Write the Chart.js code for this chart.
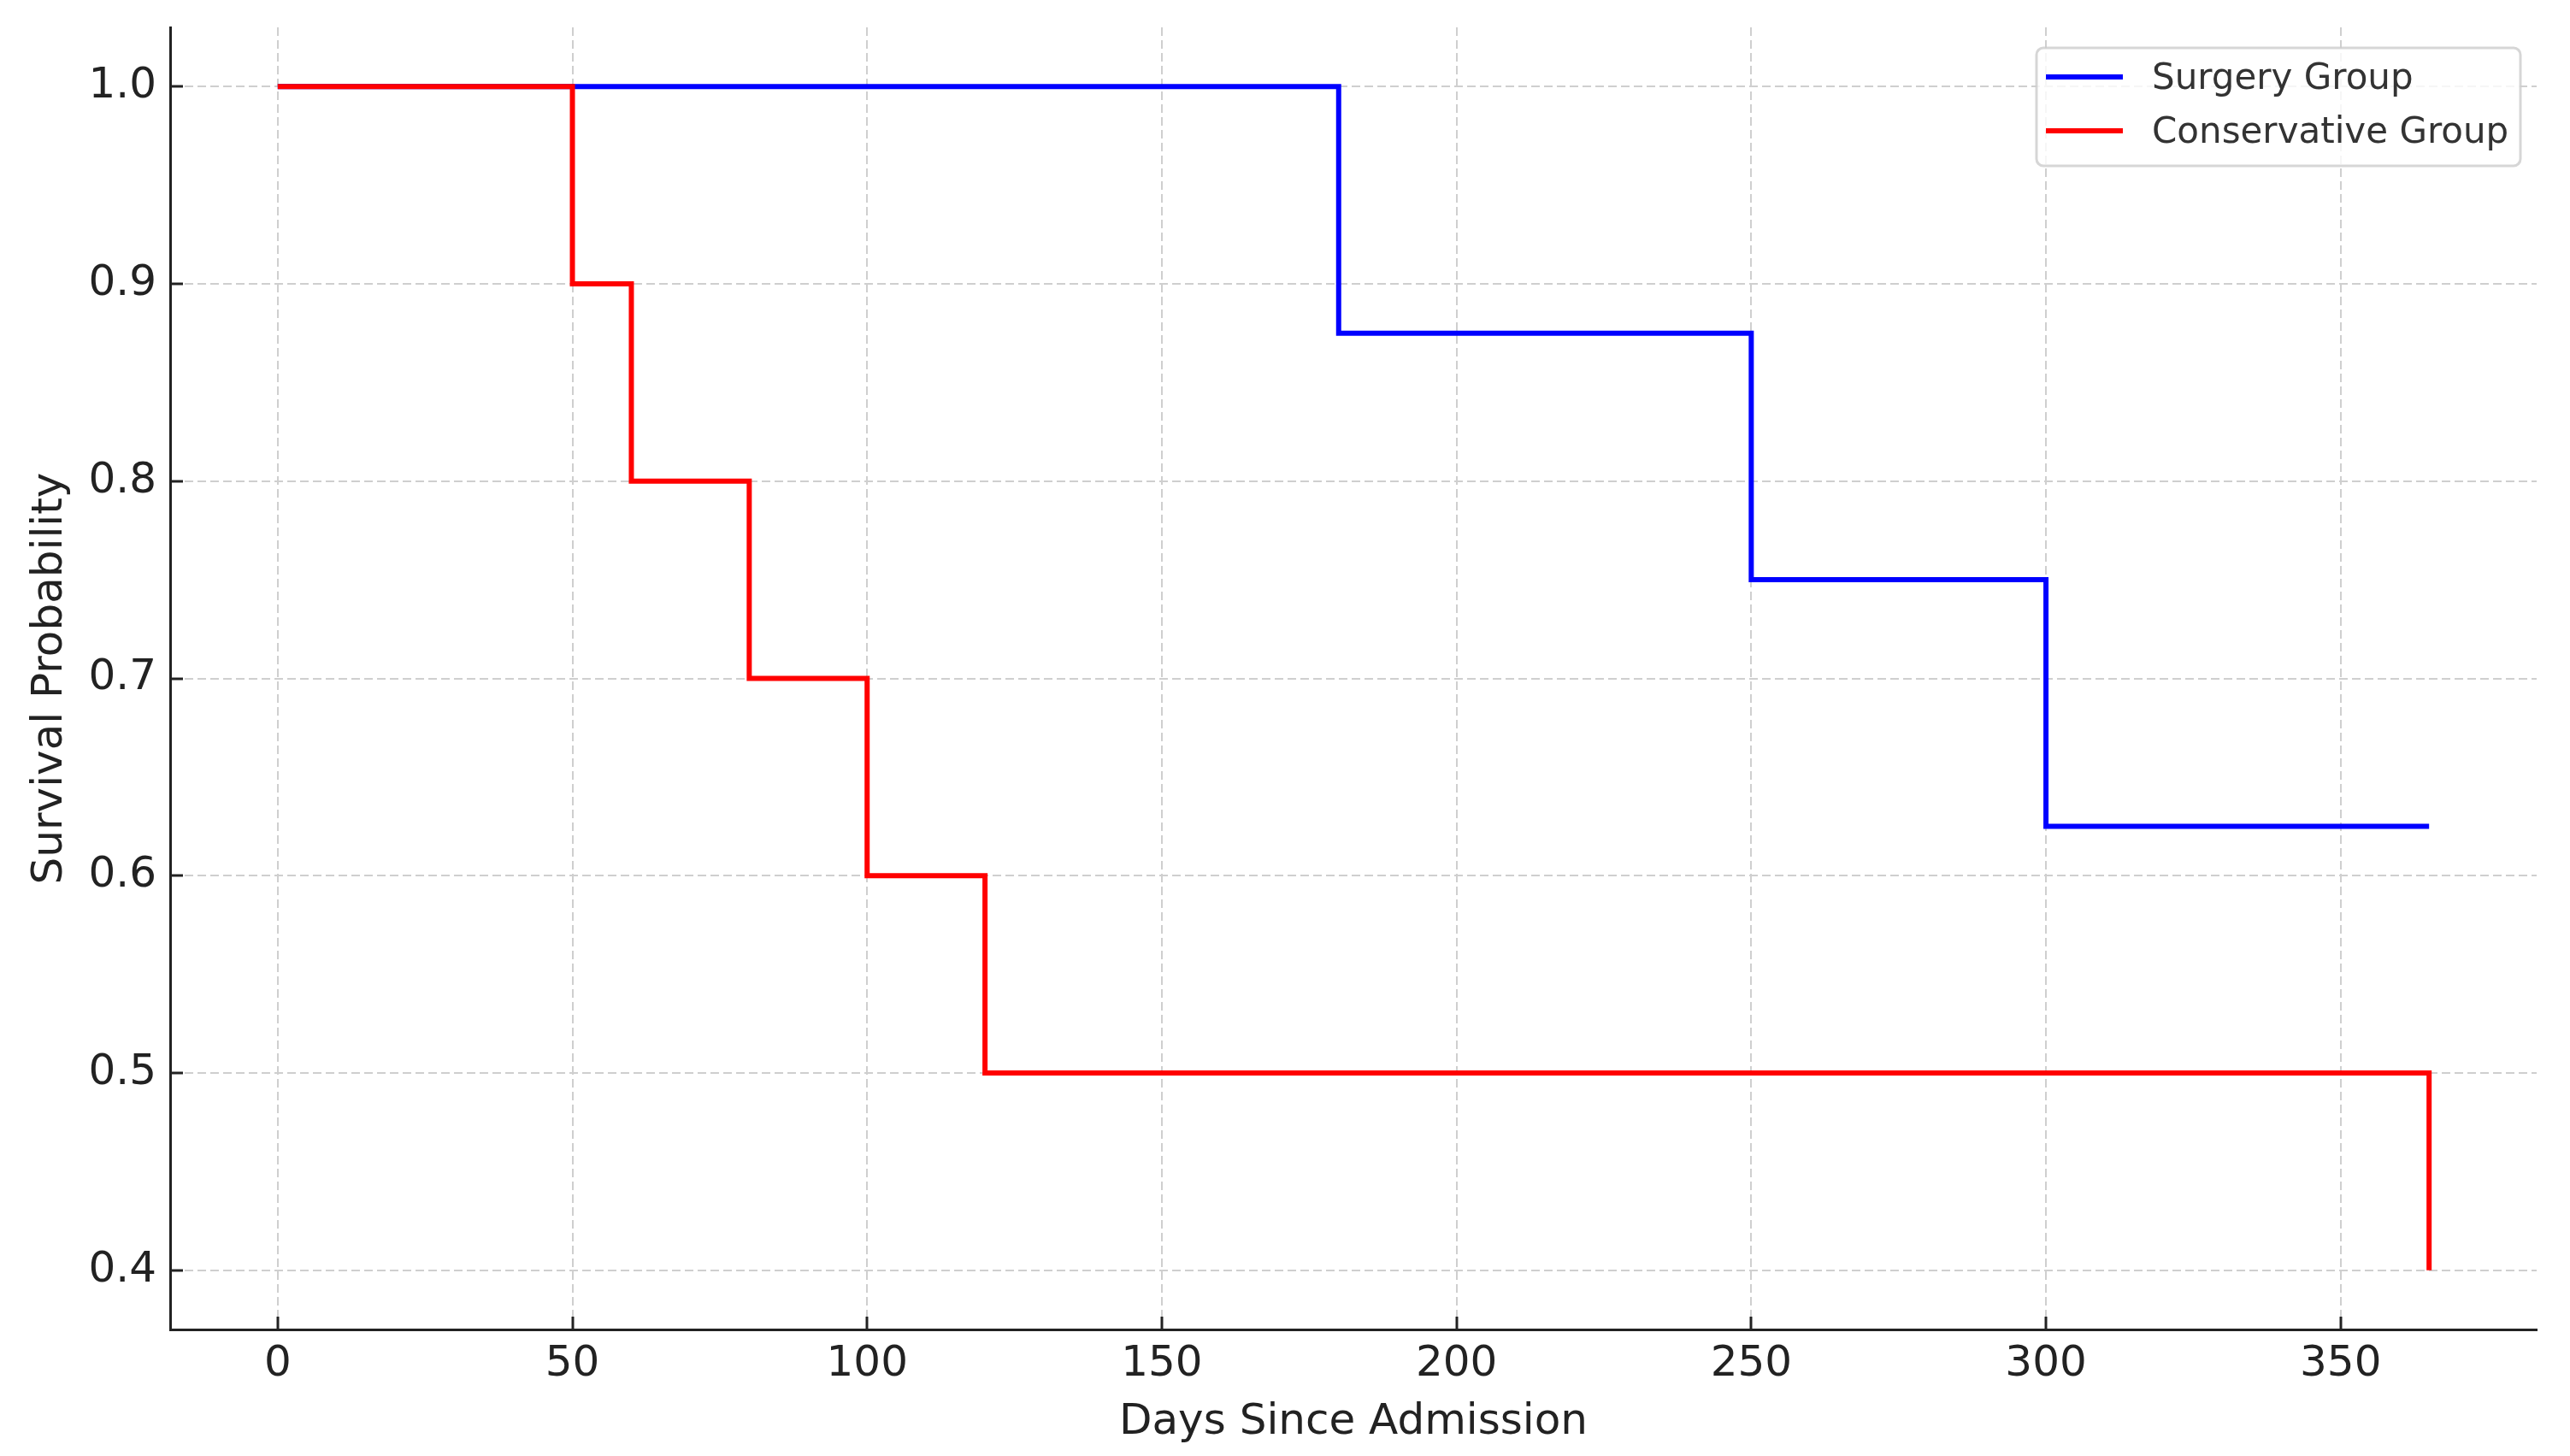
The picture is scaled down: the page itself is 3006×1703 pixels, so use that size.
<!DOCTYPE html>
<html>
<head>
<meta charset="utf-8">
<script src="https://cdn.jsdelivr.net/npm/chart.js@4.4.1/dist/chart.umd.min.js"></script>
<style>
  html, body { margin: 0; padding: 0; background: #fff; }
  #wrap { width: 3006px; height: 1703px; position: relative; }
</style>
</head>
<body>
<div id="wrap"><canvas id="km" width="3006" height="1703"></canvas></div>
<script>
// Kaplan-Meier step data (event days and survival after each step)
const surgeryDays = [0, 180, 250, 300, 365];
const surgerySurv = [1.0, 0.875, 0.75, 0.625, 0.625];
const conservDays = [0, 50, 60, 80, 100, 120, 365];
const conservSurv = [1.0, 0.9, 0.8, 0.7, 0.6, 0.5, 0.4];

const xTicks = [0, 50, 100, 150, 200, 250, 300, 350];
const yTicks = [0.4, 0.5, 0.6, 0.7, 0.8, 0.9, 1.0];

const seriesNames = ['Surgery Group', 'Conservative Group'];
const seriesColors = ['#0000ff', '#ff0000'];

const FONT = "'DejaVu Sans', sans-serif";

const toPoints = (xs, ys) => xs.map((x, i) => ({ x, y: ys[i] }));

// legend drawn as a matplotlib-style framed box in the upper right of the plot
const boxLegend = {
  id: 'boxLegend',
  afterDraw(chart) {
    const { ctx, chartArea } = chart;
    const right = chartArea.right - 19;
    const top = chartArea.top + 24;
    const w = 566, h = 138;
    const left = right - w;
    ctx.save();
    ctx.beginPath();
    ctx.roundRect(left, top, w, h, 8);
    ctx.fillStyle = 'rgba(255,255,255,0.8)';
    ctx.fill();
    ctx.lineWidth = 3;
    ctx.strokeStyle = 'rgba(204,204,204,0.8)';
    ctx.stroke();
    ctx.font = `42px ${FONT}`;
    ctx.textBaseline = 'middle';
    chart.data.datasets.forEach((ds, i) => {
      const y = top + 34 + i * 63;
      ctx.beginPath();
      ctx.moveTo(left + 11, y);
      ctx.lineTo(left + 101, y);
      ctx.lineWidth = 6;
      ctx.strokeStyle = ds.borderColor;
      ctx.stroke();
      ctx.fillStyle = '#333';
      ctx.fillText(ds.label, left + 135, y + 3);
    });
    ctx.restore();
  }
};

const sharedGrid = {
  color: '#cfcfcf',
  lineWidth: 2,
  drawTicks: true,
  tickLength: -15,
  tickColor: '#222',
  tickWidth: 3,
  tickBorderDash: []
};

const noPad = (s) => {
  s.paddingTop = 0; s.paddingBottom = 0;
  s.paddingLeft = 0; s.paddingRight = 0;
};

new Chart(document.getElementById('km'), {
  type: 'line',
  data: {
    datasets: [
      {
        label: seriesNames[0],
        data: toPoints(surgeryDays, surgerySurv),
        borderColor: seriesColors[0],
        borderWidth: 6,
        stepped: 'before',
        pointRadius: 0,
        fill: false,
        order: 2
      },
      {
        label: seriesNames[1],
        data: toPoints(conservDays, conservSurv),
        borderColor: seriesColors[1],
        borderWidth: 6,
        stepped: 'before',
        pointRadius: 0,
        fill: false,
        order: 1
      }
    ]
  },
  plugins: [boxLegend],
  options: {
    responsive: false,
    animation: false,
    devicePixelRatio: 1,
    layout: { padding: { left: 0, top: 32, right: 39, bottom: 0 } },
    plugins: {
      legend: { display: false },
      tooltip: { enabled: false }
    },
    scales: {
      x: {
        type: 'linear',
        min: -18.25,
        max: 383.25,
        afterBuildTicks: (s) => { s.ticks = xTicks.map(v => ({ value: v })); },
        afterFit: (s) => { s.height = 148; noPad(s); },
        grid: sharedGrid,
        border: { display: true, color: '#222', width: 3, dash: [10, 5] },
        ticks: {
          color: '#222',
          font: { family: FONT, size: 50 },
          padding: 26,
          maxRotation: 0,
          callback: (v) => String(v)
        },
        title: {
          display: true,
          text: 'Days Since Admission',
          color: '#222',
          font: { family: FONT, size: 50 },
          padding: { top: 0, bottom: 9 }
        }
      },
      y: {
        type: 'linear',
        min: 0.37,
        max: 1.03,
        afterBuildTicks: (s) => { s.ticks = yTicks.map(v => ({ value: v })); },
        afterFit: (s) => { s.width = 199; noPad(s); },
        grid: sharedGrid,
        border: { display: true, color: '#222', width: 3, dash: [10, 5] },
        ticks: {
          color: '#222',
          font: { family: FONT, size: 50 },
          padding: 31,
          callback: (v) => Number(v).toFixed(1)
        },
        title: {
          display: true,
          text: 'Survival Probability',
          color: '#222',
          font: { family: FONT, size: 50 },
          padding: { top: 29, bottom: 0 }
        }
      }
    }
  }
});
</script>
</body>
</html>
